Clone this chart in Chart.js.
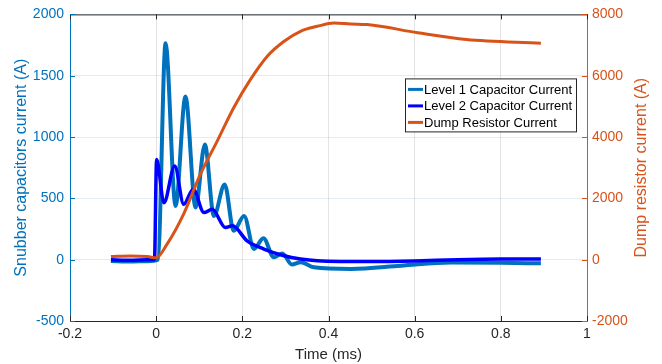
<!DOCTYPE html>
<html>
<head>
<meta charset="utf-8">
<script src="https://cdn.jsdelivr.net/npm/chart.js@4"></script>
<style>
  html, body { margin: 0; padding: 0; background: #fff; }
  canvas { display: block; }
</style>
</head>
<body>
<canvas id="chart" width="662" height="364"></canvas>
<script>
// time axis in ms, currents in A
const timeL1 = [-0.105, -0.06, -0.02, 0.004, 0.0218, 0.045, 0.068, 0.0915, 0.113, 0.134, 0.159, 0.18, 0.204, 0.227, 0.249, 0.273, 0.293, 0.315, 0.335, 0.366, 0.452, 0.568, 0.684, 0.8, 0.893];
const level1 = [-10, -15, -12, 0, 1764, 438, 1331, 425, 939, 357, 614, 235, 357, 87, 175, 19, 50, -40, -20, -62, -75, -49, -22, -25, -30];

const timeL2 = [-0.105, -0.06, -0.02, -0.004, 0.001, 0.018, 0.043, 0.064, 0.086, 0.111, 0.13, 0.161, 0.177, 0.211, 0.25, 0.297, 0.335, 0.374, 0.5, 0.6, 0.7, 0.8, 0.893];
const level2 = [0, -5, 0, 0, 817, 465, 763, 452, 574, 384, 411, 262, 276, 154, 87, 32, 6, -8, -15, -10, 0, 5, 5];

const timeDump = [-0.105, -0.06, -0.02, 0, 0.026, 0.064, 0.103, 0.142, 0.18, 0.219, 0.258, 0.297, 0.335, 0.374, 0.413, 0.452, 0.49, 0.607, 0.72, 0.893];
const dump = [100, 120, 100, 60, 523, 1497, 2796, 3877, 4958, 5880, 6637, 7124, 7449, 7611, 7720, 7687, 7670, 7400, 7180, 7060];

const xTicks = [-0.2, 0, 0.2, 0.4, 0.6, 0.8, 1];
const leftTicks = [-500, 0, 500, 1000, 1500, 2000];
const rightTicks = [-2000, 0, 2000, 4000, 6000, 8000];

const BLUE = '#0072BD';
const PURE_BLUE = '#0000FF';
const ORANGE = '#D95319';
const FONT = '"Liberation Sans", Arial, sans-serif';

const toPoints = (xs, ys) => xs.map((x, i) => ({ x: x, y: ys[i] }));

// MATLAB style box, inward ticks, right title and legend
const matlabFrame = {
    id: 'matlabFrame',
    afterDatasetsDraw(chart) {
        const { ctx, chartArea: a, scales } = chart;
        ctx.save();
        ctx.lineWidth = 1;
        // top border
        ctx.strokeStyle = '#262626';
        ctx.beginPath();
        ctx.moveTo(a.left, a.top + 0.5);
        ctx.lineTo(a.right, a.top + 0.5);
        ctx.stroke();
        // x ticks inward
        xTicks.forEach(v => {
            const px = Math.round(scales.x.getPixelForValue(v)) + 0.5;
            ctx.beginPath();
            ctx.moveTo(px, a.bottom);
            ctx.lineTo(px, a.bottom - 5);
            ctx.moveTo(px, a.top);
            ctx.lineTo(px, a.top + 5);
            ctx.stroke();
        });
        ctx.strokeStyle = BLUE;
        leftTicks.forEach(v => {
            const py = Math.round(scales.y.getPixelForValue(v)) + 0.5;
            ctx.beginPath();
            ctx.moveTo(a.left, py);
            ctx.lineTo(a.left + 5, py);
            ctx.stroke();
        });
        ctx.strokeStyle = ORANGE;
        rightTicks.forEach(v => {
            const py = Math.round(scales.y1.getPixelForValue(v)) + 0.5;
            ctx.beginPath();
            ctx.moveTo(a.right, py);
            ctx.lineTo(a.right - 5, py);
            ctx.stroke();
        });

        // right axis title, reading bottom to top like the left one
        ctx.save();
        ctx.translate(642, (a.top + a.bottom) / 2);
        ctx.rotate(-Math.PI / 2);
        ctx.fillStyle = ORANGE;
        ctx.font = '16px ' + FONT;
        ctx.textAlign = 'center';
        ctx.textBaseline = 'middle';
        ctx.fillText('Dump resistor current (A)', 0, 0);
        ctx.restore();

        // legend box
        const bx = a.right - 182, by = a.top + 64, bw = 171, bh = 53;
        ctx.fillStyle = '#fff';
        ctx.fillRect(bx, by, bw, bh);
        ctx.strokeStyle = '#262626';
        ctx.lineWidth = 1;
        ctx.strokeRect(bx + 0.5, by + 0.5, bw, bh);
        ctx.font = '13px ' + FONT;
        ctx.textBaseline = 'middle';
        chart.data.datasets.forEach((ds, i) => {
            const ly = by + 11 + i * 16.5;
            ctx.strokeStyle = ds.borderColor;
            ctx.lineWidth = 3;
            ctx.beginPath();
            ctx.moveTo(bx + 3, ly);
            ctx.lineTo(bx + 18, ly);
            ctx.stroke();
            ctx.fillStyle = '#000';
            ctx.fillText(ds.label, bx + 19, ly + 1);
        });
        ctx.restore();
    }
};

new Chart(document.getElementById('chart'), {
    type: 'line',
    data: {
        datasets: [{
            label: 'Level 1 Capacitor Current',
            data: toPoints(timeL1, level1),
            borderColor: BLUE,
            borderWidth: 4,
            pointRadius: 0,
            cubicInterpolationMode: 'monotone',
            yAxisID: 'y',
            order: 2
        }, {
            label: 'Level 2 Capacitor Current',
            data: toPoints(timeL2, level2),
            borderColor: PURE_BLUE,
            borderWidth: 3.5,
            pointRadius: 0,
            cubicInterpolationMode: 'monotone',
            yAxisID: 'y',
            order: 1
        }, {
            label: 'Dump Resistor Current',
            data: toPoints(timeDump, dump),
            borderColor: ORANGE,
            borderWidth: 3,
            pointRadius: 0,
            cubicInterpolationMode: 'monotone',
            yAxisID: 'y1',
            order: 0
        }]
    },
    options: {
        responsive: false,
        animation: false,
        layout: {
            padding: { top: 13, left: 0, right: 0, bottom: 0 }
        },
        plugins: {
            legend: { display: false },
            tooltip: { enabled: false }
        },
        scales: {
            x: {
                type: 'linear',
                min: -0.2,
                max: 1,
                afterBuildTicks: axis => { axis.ticks = xTicks.map(v => ({ value: v })); },
                afterFit: axis => { axis.height = 43; },
                grid: { color: '#e4e4e4', drawTicks: false },
                border: { color: '#262626' },
                ticks: {
                    color: '#262626',
                    padding: 5,
                    font: { family: FONT, size: 14 },
                    callback: v => String(Math.round(v * 10) / 10)
                },
                title: {
                    display: true,
                    text: 'Time (ms)',
                    color: '#262626',
                    padding: { top: 0, bottom: 0 },
                    font: { family: FONT, size: 15 }
                }
            },
            y: {
                position: 'left',
                min: -500,
                max: 2000,
                afterBuildTicks: axis => { axis.ticks = leftTicks.map(v => ({ value: v })); },
                afterFit: axis => { axis.width = 70; },
                grid: { color: 'rgba(0,114,189,0.13)', drawTicks: false },
                border: { color: BLUE },
                ticks: {
                    color: BLUE,
                    padding: 6,
                    font: { family: FONT, size: 14 },
                    callback: v => String(v)
                },
                title: {
                    display: true,
                    text: 'Snubber capacitors current (A)',
                    color: BLUE,
                    padding: { top: 12, bottom: 0 },
                    font: { family: FONT, size: 16 }
                }
            },
            y1: {
                position: 'right',
                min: -2000,
                max: 8000,
                afterBuildTicks: axis => { axis.ticks = rightTicks.map(v => ({ value: v })); },
                afterFit: axis => { axis.width = 75; },
                grid: { display: false, drawTicks: false },
                border: { color: ORANGE },
                ticks: {
                    color: ORANGE,
                    padding: 5,
                    font: { family: FONT, size: 14 },
                    callback: v => String(v)
                },
                title: { display: false }
            }
        }
    },
    plugins: [matlabFrame]
});
</script>
</body>
</html>
